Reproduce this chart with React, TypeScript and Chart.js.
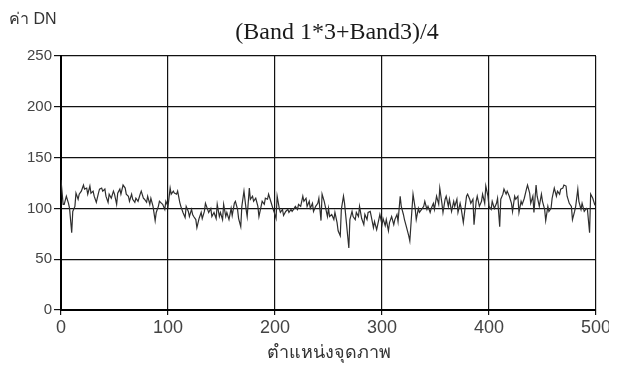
import React, { useEffect, useRef } from "react";
import { Chart, registerables } from "chart.js";

Chart.register(...registerables);

const chartTitle = "(Band 1*3+Band3)/4";
const yAxisLabel = "ค่า DN";
const xAxisLabel = "ตำแหน่งจุดภาพ";
const xTicks = [0, 100, 200, 300, 400, 500];
const yTicks = [0, 50, 100, 150, 200, 250];

const pixelPosition = [
  0, 2, 3, 5, 7, 8, 10, 11, 13, 14,
  16, 17, 19, 21, 22, 24, 25, 27, 28, 30,
  31, 33, 35, 36, 38, 39, 41, 42, 44, 45,
  47, 49, 50, 52, 53, 55, 56, 58, 60, 61,
  63, 64, 66, 67, 69, 70, 72, 74, 75, 77,
  78, 80, 81, 83, 84, 86, 88, 89, 91, 92,
  94, 95, 97, 98, 100, 102, 103, 105, 106, 108,
  109, 111, 112, 114, 116, 117, 119, 120, 122, 123,
  124, 126, 127, 129, 131, 132, 134, 135, 137, 138,
  140, 141, 143, 145, 146, 148, 149, 151, 152, 154,
  155, 157, 159, 160, 162, 163, 165, 166, 168, 169,
  171, 173, 174, 176, 177, 179, 180, 182, 184, 185,
  187, 188, 190, 191, 193, 194, 196, 198, 199, 201,
  202, 204, 205, 207, 208, 210, 212, 213, 215, 216,
  218, 219, 221, 222, 224, 226, 227, 229, 230, 232,
  233, 235, 236, 238, 240, 241, 243, 244, 246, 247,
  249, 250,
  251, 253, 255, 256, 258, 259, 261, 262, 264, 265,
  267, 269, 270, 272, 273, 275, 276, 278, 279, 281,
  283, 284, 286, 287, 289, 290, 292, 293, 295, 297,
  298, 300, 301, 303, 304, 306, 307, 309, 311, 312,
  314, 315, 317, 318, 320, 321, 323, 325, 326, 328,
  329, 331, 332, 334, 335, 337, 339, 340, 342, 343,
  345, 346, 348, 349, 351, 353, 354, 356, 357, 359,
  360, 362, 363, 365, 367, 368, 370, 371, 373, 374,
  376,
  379, 380, 382, 383, 385, 386, 388, 389, 391, 393,
  394, 396, 397, 399, 400, 402, 403, 405, 407, 408,
  410, 411, 413, 414, 416, 417, 419, 421, 422, 424,
  425, 427, 428, 430, 431, 433, 435, 436, 438, 439,
  441, 442, 444, 445, 447, 449, 450, 452, 453, 455,
  456, 458, 459, 461, 463, 464, 466, 467, 469, 470,
  472, 473, 475, 477, 478, 480, 481, 483, 484, 486,
  487, 489, 491, 492, 494, 495, 497, 499,
];

const dnValue = [
  128, 104, 104, 112, 105, 100, 76, 97, 102, 115,
  109, 114, 117, 123, 119, 120, 114, 122, 115, 117,
  112, 106, 115, 119, 120, 117, 119, 112, 106, 114,
  110, 117, 114, 104, 115, 119, 114, 123, 120, 114,
  112, 107, 114, 109, 106, 110, 107, 114, 117, 110,
  109, 106, 112, 104, 110, 102, 88, 96, 102, 107,
  105, 104, 99, 107, 102, 120, 114, 117, 115, 114,
  117, 106, 102, 96, 91, 102, 97, 92, 99, 94,
  92, 89, 81, 90, 96, 90, 97, 105, 99, 96,
  100, 92, 96, 90, 104, 92, 96, 89, 104, 92,
  96, 89, 100, 93, 105, 107, 99, 90, 82, 102,
  117, 99, 92, 120, 109, 112, 107, 110, 102, 92,
  102, 107, 104, 110, 109, 114, 107, 100, 97, 90,
  112, 100, 96, 99, 93, 97, 99, 96, 99, 97,
  100, 102, 99, 104, 102, 112, 107, 110, 102, 107,
  100, 105, 97, 102, 105, 110, 88, 114, 107, 102,
  92, 100,
  92, 94, 89, 96, 86, 78, 73, 99, 112, 105,
  83, 61, 89, 97, 92, 89, 96, 92, 102, 90,
  84, 94, 89, 96, 97, 92, 81, 87, 79, 89,
  94, 84, 90, 83, 89, 78, 86, 92, 84, 89,
  94, 87, 112, 102, 94, 89, 81, 73, 68, 99,
  114, 100, 89, 100, 96, 99, 102, 107, 99, 102,
  96, 100, 105, 99, 112, 104, 120, 105, 96, 109,
  112, 102, 109, 97, 107, 102, 109, 96, 105, 100,
  86,
  112, 114, 109, 105, 109, 84, 107, 112, 102, 107,
  114, 105, 122, 112, 102, 99, 107, 100, 105, 110,
  82, 109, 114, 119, 114, 117, 112, 105, 97, 112,
  109, 112, 96, 107, 104, 110, 119, 123, 115, 105,
  112, 96, 123, 112, 102, 114, 107, 99, 88, 102,
  97, 100, 110, 120, 112, 117, 114, 119, 120, 123,
  122, 112, 105, 102, 89, 97, 102, 119, 107, 99,
  105, 97, 100, 99, 76, 114, 110, 103,
];

const SANS = '"Liberation Sans", Arial, "Noto Sans", sans-serif';

export default function App() {
  const ref = useRef<HTMLCanvasElement>(null);

  useEffect(() => {
    if (!ref.current) return;
    const textPlugin = {
      id: "cornerTexts",
      afterDraw(chart: any) {
        const ctx = chart.ctx;
        ctx.save();
        ctx.fillStyle = "#333";
        ctx.textBaseline = "alphabetic";
        ctx.textAlign = "left";
        ctx.font = "16px " + SANS;
        ctx.fillText(yAxisLabel, 9, 24);
        ctx.fillStyle = "#1a1a1a";
        ctx.textAlign = "center";
        ctx.font = '24px "Liberation Serif", "Times New Roman", serif';
        ctx.fillText(chartTitle, 337, 39);
        ctx.restore();
      },
    };

    const chart = new Chart(ref.current, {
      type: "line",
      data: {
        datasets: [
          {
            data: pixelPosition.map((x, i) => ({ x, y: dnValue[i] })),
            borderColor: "#2e2e2e",
            borderWidth: 1.2,
            pointRadius: 0,
            tension: 0,
            fill: false,
          },
        ],
      },
      options: {
        responsive: false,
        animation: false,
        layout: { padding: { top: 56, right: 13, left: 0, bottom: 0 } },
        plugins: {
          legend: { display: false },
          tooltip: { enabled: false },
          title: { display: false },
        },
        scales: {
          x: {
            type: "linear",
            min: 0,
            max: 500,
            afterBuildTicks: (s: any) => {
              s.ticks = xTicks.map((v) => ({ value: v }));
            },
            afterFit: (s: any) => {
              s.height = 60;
              s.paddingLeft = 0;
              s.paddingRight = 0;
            },
            ticks: {
              color: "#444",
              font: { family: SANS, size: 18 },
              padding: 2,
              maxRotation: 0,
              autoSkip: false,
            },
            grid: { color: "#111", lineWidth: 1.2, tickLength: 5 },
            border: { color: "#000", width: 2 },
            title: {
              display: true,
              text: xAxisLabel,
              color: "#333",
              font: { family: SANS, size: 18 },
              padding: { top: 0, bottom: 6 },
            },
          },
          y: {
            min: 0,
            max: 250,
            afterBuildTicks: (s: any) => {
              s.ticks = yTicks.map((v) => ({ value: v }));
            },
            afterFit: (s: any) => {
              s.width = 61;
              s.paddingTop = 0;
              s.paddingBottom = 0;
            },
            ticks: {
              color: "#444",
              font: { family: SANS, size: 15 },
              padding: 2,
            },
            grid: { color: "#111", lineWidth: 1.2, tickLength: 7 },
            border: { color: "#000", width: 2 },
          },
        },
      },
      plugins: [textPlugin],
    });
    return () => chart.destroy();
  }, []);

  return (
    <div
      style={{
        position: "absolute",
        left: 0,
        top: 0,
        width: 619,
        height: 370,
        background: "#fff",
      }}
    >
      <canvas ref={ref} width={609} height={370} style={{ display: "block" }} />
    </div>
  );
}
